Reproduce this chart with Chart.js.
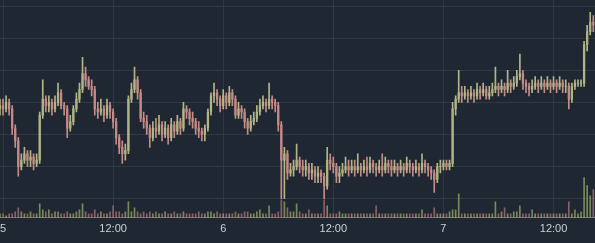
<!DOCTYPE html>
<html>
<head>
<meta charset="utf-8">
<script src="https://cdn.jsdelivr.net/npm/chart.js@4/dist/chart.umd.min.js"></script>
<style>
  html, body { margin: 0; padding: 0; background: #1f2832; }
  #wrap { width: 595px; height: 243px; position: relative; }
</style>
</head>
<body>
<div id="wrap"><canvas id="priceChart"></canvas></div>
<script>
// 20-minute candles, first one starts 20 min before day 5 00:00
var firstHour = -1 / 3;
var stepHours = 1 / 3;

var tickHours = [0, 12, 24, 36, 48, 60];
var tickLabels = ["5", "12:00", "6", "12:00", "7", "12:00"];

var open = [
  128,129,128,130,128,122,118,110,112,114,
  112,113,111,112,126,131,129,130,128,130,
  133,129,128,122,124,128,131,134,139,137,
  135,134,128,127,128,126,129,127,124,119,
  116,114,115,131,134,137,133,125,124,122,
  119,122,121,123,120,122,119,123,121,124,
  122,128,127,125,124,122,121,120,122,127,
  132,133,131,129,132,130,133,131,126,128,
  127,124,122,124,125,127,129,130,129,131,
  130,129,123,112,114,108,109,110,112,110,
  109,110,108,109,107,108,107,104,112,111,
  110,107,108,109,110,109,110,109,110,109,
  110,109,111,110,109,110,109,111,110,109,
  110,109,110,109,111,110,109,110,109,111,
  110,109,108,106,110,110,111,110,111,128,
  131,133,132,133,132,133,132,134,133,134,
  132,133,134,135,134,135,134,136,135,136,
  138,139,136,135,134,135,136,135,136,135,
  136,135,136,135,136,135,135,131,135,136,
  136,136,148,152,155
];
var high = [
  131,131,132,131,129,123,119,114,116,115,
  115,114,114,127,137,132,132,131,132,136,
  134,130,129,126,129,133,136,144,141,138,
  137,135,130,131,129,131,130,128,125,120,
  118,117,132,136,141,138,134,127,126,123,
  124,125,126,124,124,123,125,124,126,125,
  130,129,128,127,125,124,122,123,128,133,
  136,134,132,134,133,135,134,132,130,129,
  128,125,126,127,129,131,132,131,136,132,
  131,130,124,116,115,111,112,117,113,112,
  112,111,111,110,110,109,108,116,114,113,
  111,110,111,113,112,112,112,114,111,112,
  113,113,112,111,112,114,113,112,112,112,
  111,112,111,113,112,111,112,111,114,112,
  111,110,109,111,112,112,112,112,130,132,
  140,135,135,134,135,134,136,135,136,135,
  135,136,141,136,137,136,140,137,138,140,
  145,140,137,136,137,138,137,138,137,138,
  137,138,137,138,137,137,136,136,137,137,
  137,149,154,158,157
];
var low = [
  126,126,127,126,120,116,107,109,111,110,
  110,109,110,111,125,127,127,126,127,129,
  128,126,119,121,123,127,130,133,135,134,
  132,126,125,126,124,125,125,122,117,114,
  111,112,114,130,133,131,124,122,120,116,
  118,119,120,118,119,117,118,119,120,120,
  121,125,123,122,120,119,118,118,121,126,
  130,129,127,128,128,129,129,125,125,125,
  122,120,121,123,124,126,128,127,128,128,
  127,121,100,100,106,107,107,109,108,107,
  107,106,106,105,105,105,100,103,109,108,
  105,105,107,108,107,108,107,108,107,108,
  107,108,108,107,108,107,108,108,107,108,
  107,108,107,108,108,107,108,107,108,108,
  107,106,102,105,108,109,109,109,110,126,
  130,130,131,130,131,130,131,131,132,131,
  131,132,133,132,133,132,133,133,134,135,
  137,134,133,132,133,134,133,134,133,134,
  133,134,133,134,133,133,128,130,134,135,
  135,135,146,151,152
];
var close = [
  129,128,130,128,122,118,110,112,114,112,
  113,111,112,126,131,129,130,128,130,133,
  129,128,122,124,128,131,134,139,137,135,
  134,128,127,128,126,129,127,124,119,116,
  114,115,131,134,137,133,125,124,122,119,
  122,121,123,120,122,119,123,121,124,122,
  128,127,125,124,122,121,120,122,127,132,
  133,131,129,132,130,133,131,126,128,127,
  124,122,124,125,127,129,130,129,131,130,
  129,123,112,114,108,109,110,112,110,109,
  110,108,109,107,108,107,104,112,111,110,
  107,108,109,110,109,110,109,110,109,110,
  109,111,110,109,110,109,111,110,109,110,
  109,110,109,111,110,109,110,109,111,110,
  109,108,106,110,110,111,110,111,128,131,
  133,132,133,132,133,132,134,133,134,132,
  133,134,135,134,135,134,136,135,136,138,
  139,136,135,134,135,136,135,136,135,136,
  135,136,135,136,135,135,131,135,136,136,
  136,148,152,155,154
];
var volume = [
  2,2,1,2,2,3,5,3,2,2,
  3,2,2,7,4,3,4,2,3,3,
  2,2,3,2,2,3,4,7,3,2,
  2,4,2,3,2,2,3,6,3,3,
  2,3,8,3,5,3,2,3,2,3,
  2,3,2,2,3,2,2,3,2,2,
  3,2,2,2,2,3,2,2,3,3,
  2,3,2,2,2,2,2,3,2,2,
  3,3,2,2,3,4,2,2,6,2,
  2,3,9,8,5,3,3,7,3,2,
  2,4,2,2,2,2,9,6,2,2,
  2,3,2,2,2,2,2,2,2,2,
  2,2,2,6,2,2,2,2,2,2,
  2,2,2,2,2,2,2,2,4,2,
  2,2,5,2,2,2,2,3,4,4,
  12,2,2,2,2,2,2,2,2,2,
  2,2,8,2,3,5,2,2,3,3,
  6,2,2,2,4,2,2,2,2,2,
  2,2,2,2,2,2,8,2,4,2,
  3,20,16,11,14
];

var upColor = "#b3b585";
var downColor = "#c68a87";
var upVol = "rgba(160,178,105,0.7)";
var downVol = "rgba(185,120,125,0.7)";

var wicks = [], bodies = [], vols = [];
for (var i = 0; i < close.length; i++) {
    var t = firstHour + i * stepHours;
    wicks.push({ x: t, y: [low[i], high[i]] });
    bodies.push({ x: t, y: [open[i], close[i]] });
    vols.push({ x: t, y: volume[i] });
}

function candleColor(ctx) {
    var i = ctx.dataIndex;
    return close[i] >= open[i] ? upColor : downColor;
}
function volColor(ctx) {
    var i = ctx.dataIndex;
    return close[i] >= open[i] ? upVol : downVol;
}

var gridColor = "#2f3943";

var ctx = document.getElementById("priceChart").getContext("2d");
var priceChart = new Chart(ctx, {
    type: "bar",
    data: {
        datasets: [
            { data: vols, yAxisID: "yVol", backgroundColor: volColor, barThickness: 1, grouped: false, order: 3 },
            { data: wicks, yAxisID: "y", backgroundColor: candleColor, barThickness: 1, grouped: false, order: 2 },
            { data: bodies, yAxisID: "y", backgroundColor: candleColor, barThickness: 1.6, grouped: false, order: 1 }
        ]
    },
    options: {
        responsive: true,
        maintainAspectRatio: false,
        animation: false,
        layout: { padding: { left: 0, right: 0, top: 0, bottom: 2 }, autoPadding: false },
        plugins: { legend: { display: false }, tooltip: { enabled: false } },
        scales: {
            x: {
                type: "linear",
                min: -0.327,
                max: 64.52,
                offset: false,
                grid: { color: gridColor, drawTicks: false, offset: false },
                border: { display: true, color: "#7d7476", width: 1 },
                afterBuildTicks: function (axis) {
                    axis.ticks = tickHours.map(function (h) { return { value: h }; });
                },
                afterFit: function (axis) {
                    // let the first label hang over the left edge like the original
                    axis.paddingLeft = 0;
                    axis.paddingRight = 0;
                },
                ticks: {
                    padding: 5,
                    color: "#cdd0d4",
                    font: { family: "'Liberation Sans', Arial, sans-serif", size: 11 },
                    maxRotation: 0,
                    autoSkip: false,
                    callback: function (value) {
                        var k = tickHours.indexOf(value);
                        return k >= 0 ? tickLabels[k] : "";
                    }
                }
            },
            y: {
                min: 94.06,
                max: 161.875,
                position: "left",
                grid: { color: gridColor, drawTicks: false },
                border: { display: false },
                ticks: { display: false, stepSize: 10, includeBounds: false },
                afterFit: function (axis) { axis.width = 0; }
            },
            yVol: {
                display: false,
                min: 0,
                max: 108.5
            }
        }
    }
});
</script>
</body>
</html>
